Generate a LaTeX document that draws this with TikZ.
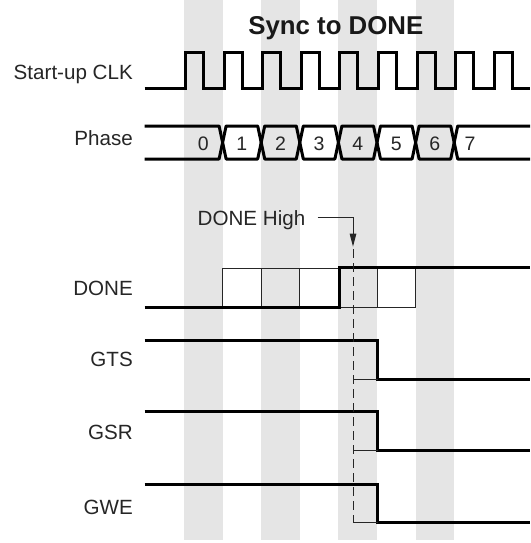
\documentclass[tikz,border=0pt]{standalone}
\usepackage{fontspec}
\setmainfont{Liberation Sans}
\usetikzlibrary{arrows.meta}

\begin{document}
\begin{tikzpicture}[x=1pt, y=-1pt, >={Triangle[length=13pt,width=6.5pt]},
                    sig/.style={line width=3pt},
                    bus/.style={line width=3pt, line join=round},
                    thinline/.style={line width=1pt, black!85},
                    lbl/.style={anchor=base east, inner sep=0pt, text=black!85,
                                font=\fontsize{20.6}{24}\selectfont},
                    digit/.style={anchor=base, inner sep=0pt, text=black!85,
                                  font=\fontsize{19.5}{23}\selectfont}]
  \useasboundingbox (0,0) rectangle (530,543);

  % Shaded clock cycles (0, 2, 4, 6), cycle width 38.6
  \foreach \k in {0,2,4,6}
    \fill[black!10] ({184+\k*38.6},0) rectangle ({222.6+\k*38.6},540);

  % Title
  \node[anchor=base, inner sep=0pt, text=black!90,
        font=\bfseries\fontsize{25.8}{30}\selectfont] (title) at (335.8,34.4) {Sync to DONE};

  % Signal names
  \node[lbl] (clk)   at (133,79.1)  {Start-up CLK};
  \node[lbl] (phase) at (133,145.7) {Phase};
  \node[lbl] (done)  at (133,295.4) {DONE};
  \node[lbl] (gts)   at (133,366.7) {GTS};
  \node[lbl] (gsr)   at (133,439.1) {GSR};
  \node[lbl] (gwe)   at (133,514.1) {GWE};

  % Start-up clock (9 pulses)
  \draw[sig] (144.5,88) \foreach \k in {0,...,8} {
      -- ({185.5+\k*38.6},88) -- ({185.5+\k*38.6},53)
      -- ({203.5+\k*38.6},53) -- ({203.5+\k*38.6},88)} -- (530,88);

  % Phase bus: open start, six closed phases, open end
  \draw[bus] (144.5,126) -- (219.1,126) -- (222.6,142.5) -- (219.1,159) -- (144.5,159);
  \foreach \k in {1,...,6}
    \draw[bus] ({184+\k*38.6},142.5) -- ({187.5+\k*38.6},126) -- ({219.1+\k*38.6},126)
      -- ({222.6+\k*38.6},142.5) -- ({219.1+\k*38.6},159) -- ({187.5+\k*38.6},159) -- cycle;
  \draw[bus] (530,126) -- ({187.5+7*38.6},126) -- ({184+7*38.6},142.5)
    -- ({187.5+7*38.6},159) -- (530,159);

  % Phase numbers
  \foreach \k in {0,...,6}
    \node[digit] (ph\k) at ({203.3+\k*38.6},150.1) {\k};
  \node[digit] (ph7) at (470,150.1) {7};

  % DONE register boxes
  \foreach \k in {1,...,5}
    \draw[thinline] ({184+\k*38.6},268) rectangle ({222.6+\k*38.6},307);

  % DONE goes high at start of phase 4
  \draw[sig] (144.5,307) -- (339.4,307) -- (339.4,267.5) -- (530,267.5);

  % GTS, GSR, GWE fall one cycle later
  \foreach \hi/\lo in {340.7/379.3, 411.3/450.7, 484.3/522.7} {
    \draw[sig] (144.5,\hi) -- (377.7,\hi) -- (377.7,\lo) -- (530,\lo);
    \draw[thinline] (353,\lo) -- (377.7,\lo);
  }

  % DONE High marker
  \node[lbl, anchor=base west] (high) at (197.5,225.1) {DONE High};
  \coordinate (mark) at (353,246.7);
  \coordinate (foot) at (353,522.7);
  \draw[thinline, ->] ([shift={(12,-7.4)}]high.base east) -| (mark);
  \draw[thinline, dash pattern=on 9pt off 5pt] ([yshift=-2.5pt]mark) -- (foot);
\end{tikzpicture}
\end{document}
